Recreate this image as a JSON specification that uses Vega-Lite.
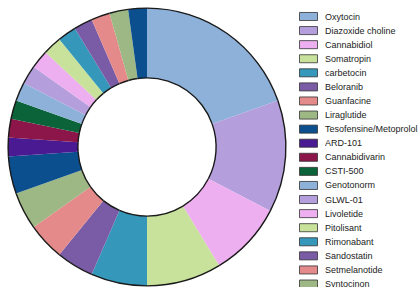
{
  "$schema": "https://vega.github.io/schema/vega-lite/v6.json",
  "width": 294,
  "height": 294,
  "padding": 0,
  "autosize": {"type": "pad"},
  "background": "white",
  "config": {"view": {"stroke": null}, "font": "Liberation Sans"},
  "data": {"values": [
    {"drug": "Oxytocin", "n": 9, "i": 1},
    {"drug": "Diazoxide choline", "n": 6, "i": 2},
    {"drug": "Cannabidiol", "n": 4, "i": 3},
    {"drug": "Somatropin", "n": 4, "i": 4},
    {"drug": "carbetocin", "n": 3, "i": 5},
    {"drug": "Beloranib", "n": 2, "i": 6},
    {"drug": "Guanfacine", "n": 2, "i": 7},
    {"drug": "Liraglutide", "n": 2, "i": 8},
    {"drug": "Tesofensine/Metoprolol", "n": 2, "i": 9},
    {"drug": "ARD-101", "n": 1, "i": 10},
    {"drug": "Cannabidivarin", "n": 1, "i": 11},
    {"drug": "CSTI-500", "n": 1, "i": 12},
    {"drug": "Genotonorm", "n": 1, "i": 13},
    {"drug": "GLWL-01", "n": 1, "i": 14},
    {"drug": "Livoletide", "n": 1, "i": 15},
    {"drug": "Pitolisant", "n": 1, "i": 16},
    {"drug": "Rimonabant", "n": 1, "i": 17},
    {"drug": "Sandostatin", "n": 1, "i": 18},
    {"drug": "Setmelanotide", "n": 1, "i": 19},
    {"drug": "Syntocinon", "n": 1, "i": 20},
    {"drug": "Vasopressin", "n": 1, "i": 21}
  ]},
  "layer": [
    {
      "mark": {"type": "arc", "innerRadius": 69, "outerRadius": 139},
      "encoding": {
        "theta": {"field": "n", "type": "quantitative", "stack": true},
        "order": {"field": "i", "type": "quantitative"},
        "color": {
          "field": "drug",
          "type": "nominal",
          "scale": {
            "domain": ["Oxytocin","Diazoxide choline","Cannabidiol","Somatropin","carbetocin","Beloranib","Guanfacine","Liraglutide","Tesofensine/Metoprolol","ARD-101","Cannabidivarin","CSTI-500","Genotonorm","GLWL-01","Livoletide","Pitolisant","Rimonabant","Sandostatin","Setmelanotide","Syntocinon","Vasopressin"],
            "range": ["#8EB1DA","#B49FDC","#EDAFEF","#C8E29C","#3598BA","#7A5CA6","#E58A8A","#9DB885","#0B4F8E","#4A1A92","#8C1549","#0B6439","#8EB1DA","#B49FDC","#EDAFEF","#C8E29C","#3598BA","#7A5CA6","#E58A8A","#9DB885","#0B4F8E"]
          },
          "legend": {
            "title": null,
            "orient": "none",
            "legendX": 302,
            "legendY": 10,
            "symbolType": "M-1.5,-0.67H1.5V0.67H-1.5Z",
            "symbolSize": 144,
            "symbolStrokeColor": "#333333",
            "symbolStrokeWidth": 0.8,
            "symbolOpacity": 1,
            "labelFontSize": 9,
            "labelColor": "#222222",
            "labelFont": "Liberation Sans",
            "labelOffset": 10,
            "rowPadding": 1.08,
            "labelLimit": 200
          }
        }
      }
    },
    {
      "mark": {"type": "arc", "innerRadius": 138.2, "outerRadius": 139.6, "fill": "#1a1a1a", "opacity": 1},
      "encoding": {
        "theta": {"field": "n", "type": "quantitative", "stack": true},
        "order": {"field": "i", "type": "quantitative"},
        "detail": {"field": "drug", "type": "nominal"}
      }
    },
    {
      "mark": {"type": "arc", "innerRadius": 68.4, "outerRadius": 69.8, "fill": "#1a1a1a", "opacity": 1},
      "encoding": {
        "theta": {"field": "n", "type": "quantitative", "stack": true},
        "order": {"field": "i", "type": "quantitative"},
        "detail": {"field": "drug", "type": "nominal"}
      }
    }
  ]
}
